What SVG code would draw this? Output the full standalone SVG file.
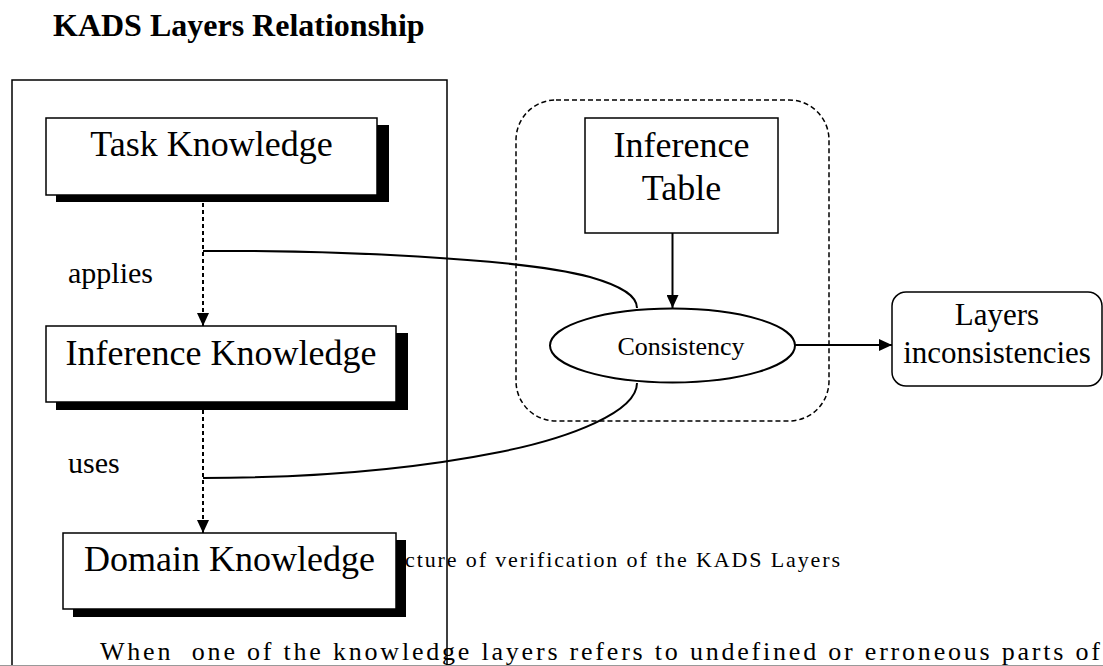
<svg xmlns="http://www.w3.org/2000/svg" width="1103" height="666" viewBox="0 0 1103 666">
<style>
text{font-family:"Liberation Serif","Times New Roman",serif;fill:#000}
.box{fill:#fff;stroke:#000;stroke-width:1.5}
.shadow{fill:#000;stroke:none}
.big{font-size:36px}
.lbl{font-size:30px}
.conn{fill:none;stroke:#000;stroke-width:2}
.dash{stroke-dasharray:4 3}
</style>
<defs>
<marker id="arr" markerUnits="userSpaceOnUse" markerWidth="14" markerHeight="12" refX="13" refY="6" orient="auto">
<path d="M0,0 L13,6 L0,12 z" fill="#000"/>
</marker>
</defs>
<rect width="1103" height="666" fill="#fff"/>

<text x="53" y="36" font-size="32" font-weight="bold">KADS Layers Relationship</text>

<g id="body-text">
<text x="405" y="567" font-size="22" textLength="435" lengthAdjust="spacing">cture of verification of the KADS Layers</text>
<text x="100" y="660" font-size="26" textLength="1000" lengthAdjust="spacing" xml:space="preserve">When  one of the knowledge layers refers to undefined or erroneous parts of</text>
</g>

<g id="frame">
<path d="M12,666 V80 H447 V666" fill="none" stroke="#000" stroke-width="1.5"/>
<line x1="0" y1="665.5" x2="1103" y2="665.5" stroke="#999" stroke-width="1"/>
</g>

<g id="consistency-region">
<rect x="516" y="100" width="313" height="321" rx="40" ry="40" fill="none" stroke="#000" stroke-width="1.5" stroke-dasharray="5 3"/>
</g>

<g id="task-knowledge">
<rect class="shadow" x="56" y="125" width="333" height="77"/>
<rect class="box" x="46" y="118" width="331" height="77"/>
<text class="big" x="211.5" y="156" text-anchor="middle">Task Knowledge</text>
</g>

<g id="inference-knowledge">
<rect class="shadow" x="56" y="333" width="352" height="77"/>
<rect class="box" x="46" y="326" width="350" height="76"/>
<text class="big" x="221" y="365" text-anchor="middle">Inference Knowledge</text>
</g>

<g id="domain-knowledge">
<rect class="shadow" x="73" y="540" width="333" height="77"/>
<rect class="box" x="63" y="533" width="333" height="76"/>
<text class="big" x="229.5" y="571" text-anchor="middle">Domain Knowledge</text>
</g>

<g id="inference-table">
<rect class="box" x="585" y="118" width="193" height="115"/>
<text class="big" x="681.5" y="157" text-anchor="middle">Inference</text>
<text class="big" x="681.5" y="200" text-anchor="middle">Table</text>
</g>

<g id="consistency">
<ellipse cx="672.5" cy="345.5" rx="122.5" ry="37" fill="#fff" stroke="#000" stroke-width="2"/>
<text x="681" y="355" font-size="26" text-anchor="middle">Consistency</text>
</g>

<g id="layers-inconsistencies">
<rect class="box" x="892" y="292" width="210" height="94" rx="14" ry="14"/>
<text x="997" y="325" font-size="31" text-anchor="middle">Layers</text>
<text x="997" y="363" font-size="31" text-anchor="middle">inconsistencies</text>
</g>

<g id="connectors">
<line class="conn dash" x1="203" y1="196" x2="203" y2="326" marker-end="url(#arr)" stroke-width="1.5"/>
<text class="lbl" x="68" y="283">applies</text>
<line class="conn dash" x1="203" y1="403" x2="203" y2="533" marker-end="url(#arr)" stroke-width="1.5"/>
<text class="lbl" x="68" y="473">uses</text>
<line class="conn" x1="672.5" y1="233" x2="672.5" y2="308" marker-end="url(#arr)" stroke-width="1.5"/>
<line class="conn" x1="795" y1="345" x2="892" y2="345" marker-end="url(#arr)" stroke-width="1.5"/>
<path class="conn" d="M203,251 C330,250 520,258 590,277 C625,287 637,297 637,308"/>
<path class="conn" d="M203,478 C320,478 420,468 500,452 C570,438 637,412 637,383"/>
</g>
</svg>
